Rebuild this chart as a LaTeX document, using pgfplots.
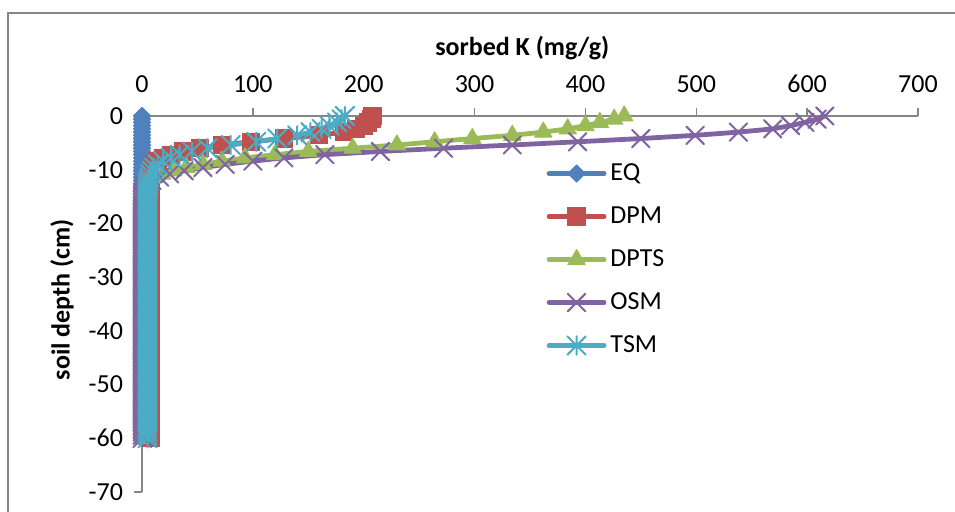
\documentclass[border=0pt]{standalone}
\usepackage{fontspec}
\setmainfont{Carlito}
\usepackage{pgfplots}
\usepackage{pgfplotstable}
\pgfplotsset{compat=1.18}
\definecolor{cEQ}{HTML}{4F81BD}
\definecolor{cDPM}{HTML}{C0504D}
\definecolor{cDPTS}{HTML}{9BBB59}
\definecolor{cOSM}{HTML}{8064A2}
\definecolor{cTSM}{HTML}{4BACC6}
\definecolor{axgray}{HTML}{868686}
\pgfdeclareplotmark{xstar}{%
  \pgfpathmoveto{\pgfqpoint{-\pgfplotmarksize}{-\pgfplotmarksize}}%
  \pgfpathlineto{\pgfqpoint{\pgfplotmarksize}{\pgfplotmarksize}}%
  \pgfpathmoveto{\pgfqpoint{-\pgfplotmarksize}{\pgfplotmarksize}}%
  \pgfpathlineto{\pgfqpoint{\pgfplotmarksize}{-\pgfplotmarksize}}%
  \pgfpathmoveto{\pgfqpoint{0pt}{-\pgfplotmarksize}}%
  \pgfpathlineto{\pgfqpoint{0pt}{\pgfplotmarksize}}%
  \pgfusepathqstroke}
\pgfplotstableread{
d EQ DPM DPTS OSM TSM
0 0 208 435 616 183
-0.6 0 207 426 609 180
-1.2 0 204 413 598 176
-1.8 0 200 400 585 169
-2.4 0 193 384 569 162
-3.0 0 182 362 538 152
-3.6 0 160 334 499 140
-4.2 0 128 298 450 122
-4.8 0 98 264 393 103
-5.4 0 72 230 334 80
-6.0 0 52 190 272 59
-6.6 0 37 150 215 45
-7.2 0 26 120 165 34
-7.8 0 19 93 128 26
-8.4 0 14 72 100 19
-9.0 0 11 55 75 14
-9.6 0 9.5 40 55 11
-10.2 0 9 28 38 9
-10.8 0 8.5 18 25 7.5
-11.4 0 8.2 11 16 6.5
-12.0 0 8 6 9 6
-12.6 0 8 3.5 5 5.5
-13.2 0 8 2 2.5 5.2
-13.8 0 8 1.5 1.2 5
-14.4 0 8 1.2 0.6 5
-15.0 0 8 1 0.3 5
-15.6 0 8 1 0.2 5
-16.2 0 8 1 0.2 5
-16.8 0 8 1 0.2 5
-17.4 0 8 1 0.2 5
-18.0 0 8 1 0.2 5
-18.6 0 8 1 0.2 5
-19.2 0 8 1 0.2 5
-19.8 0 8 1 0.2 5
-20.4 0 8 1 0.2 5
-21.0 0 8 1 0.2 5
-21.6 0 8 1 0.2 5
-22.2 0 8 1 0.2 5
-22.8 0 8 1 0.2 5
-23.4 0 8 1 0.2 5
-24.0 0 8 1 0.2 5
-24.6 0 8 1 0.2 5
-25.2 0 8 1 0.2 5
-25.8 0 8 1 0.2 5
-26.4 0 8 1 0.2 5
-27.0 0 8 1 0.2 5
-27.6 0 8 1 0.2 5
-28.2 0 8 1 0.2 5
-28.8 0 8 1 0.2 5
-29.4 0 8 1 0.2 5
-30.0 0 8 1 0.2 5
-30.6 0 8 1 0.2 5
-31.2 0 8 1 0.2 5
-31.8 0 8 1 0.2 5
-32.4 0 8 1 0.2 5
-33.0 0 8 1 0.2 5
-33.6 0 8 1 0.2 5
-34.2 0 8 1 0.2 5
-34.8 0 8 1 0.2 5
-35.4 0 8 1 0.2 5
-36.0 0 8 1 0.2 5
-36.6 0 8 1 0.2 5
-37.2 0 8 1 0.2 5
-37.8 0 8 1 0.2 5
-38.4 0 8 1 0.2 5
-39.0 0 8 1 0.2 5
-39.6 0 8 1 0.2 5
-40.2 0 8 1 0.2 5
-40.8 0 8 1 0.2 5
-41.4 0 8 1 0.2 5
-42.0 0 8 1 0.2 5
-42.6 0 8 1 0.2 5
-43.2 0 8 1 0.2 5
-43.8 0 8 1 0.2 5
-44.4 0 8 1 0.2 5
-45.0 0 8 1 0.2 5
-45.6 0 8 1 0.2 5
-46.2 0 8 1 0.2 5
-46.8 0 8 1 0.2 5
-47.4 0 8 1 0.2 5
-48.0 0 8 1 0.2 5
-48.6 0 8 1 0.2 5
-49.2 0 8 1 0.2 5
-49.8 0 8 1 0.2 5
-50.4 0 8 1 0.2 5
-51.0 0 8 1 0.2 5
-51.6 0 8 1 0.2 5
-52.2 0 8 1 0.2 5
-52.8 0 8 1 0.2 5
-53.4 0 8 1 0.2 5
-54.0 0 8 1 0.2 5
-54.6 0 8 1 0.2 5
-55.2 0 8 1 0.2 5
-55.8 0 8 1 0.2 5
-56.4 0 8 1 0.2 5
-57.0 0 8 1 0.2 5
-57.6 0 8 1 0.2 5
-58.2 0 8 1 0.2 5
-58.8 0 8 1 0.2 5
-59.4 0 8 1 0.2 5
-60.0 0 8 1 0.2 5
}\data
\begin{document}
\begin{tikzpicture}[font=\fontsize{13}{15.6}\selectfont]
\path[use as bounding box] (0,0) rectangle (477.5pt,-256pt);
\draw[axgray, line width=1pt] (4pt,-256pt) -- (4pt,-6.5pt) -- (477.5pt,-6.5pt);
\begin{axis}[
  at={(71pt,-58pt)}, anchor=north west,
  scale only axis, width=388pt, height=188pt,
  xmin=0, xmax=700, ymin=-70, ymax=0,
  axis x line=top, axis y line=left,
  axis line style={-, draw=axgray, line width=0.75pt},
  tick style={draw=axgray, line width=0.75pt},
  major tick length=4pt,
  tick align=outside,
  xtick={0,100,...,700}, ytick={-70,-60,...,0},
  yticklabels={-70,-60,-50,-40,-30,-20,-10,0},
  /pgf/number format/assume math mode=true,
  ticklabel style={font=\fontsize{13}{15.6}\selectfont},
  xticklabel style={yshift=4pt},
  yticklabel style={xshift=-2pt},
  clip=false,
  xlabel={\bfseries sorbed K (mg/g)},
  ylabel={\bfseries soil depth (cm)},
  label style={font=\fontsize{13}{15.6}\selectfont},
  xlabel style={at={(axis description cs:0.49,1.181)}, anchor=center},
  ylabel style={at={(axis description cs:-0.103,0.511)}, anchor=center, rotate=0},
  legend style={draw=none, fill=none, inner sep=0pt, at={(axis description cs:0.521,0.888)}, anchor=north west,
    font=\fontsize{13}{15.6}\selectfont, row sep=6.5pt,
    nodes={inner sep=2pt, text height=9pt, text depth=2pt}},
  legend cell align=left,
  legend image code/.code={\draw[#1, mark repeat=2, mark phase=2] plot coordinates {(0pt,0pt) (13.75pt,0pt) (27.5pt,0pt)};},
  every axis plot/.append style={line width=2.4pt, line join=round, line cap=round},
]
\addplot[cEQ, mark=diamond*, mark size=4.3pt, mark options={xscale=1.333, solid, line width=0.5pt}] table[x=EQ, y=d] {\data};
\addlegendentry{EQ}
\addplot[cDPM, mark=square*, mark size=4.3pt, mark options={solid, line width=0.5pt}] table[x=DPM, y=d] {\data};
\addlegendentry{DPM}
\addplot[cDPTS, mark=triangle*, mark size=5pt, mark options={solid, line width=0.5pt}] table[x=DPTS, y=d] {\data};
\addlegendentry{DPTS}
\addplot[cOSM, mark=x, mark size=6.2pt, mark options={solid, line width=1pt}] table[x=OSM, y=d] {\data};
\addlegendentry{OSM}
\addplot[cTSM, mark=xstar, mark size=4.6pt, mark options={solid, line width=1pt}] table[x=TSM, y=d] {\data};
\addlegendentry{TSM}
\end{axis}
\end{tikzpicture}
\end{document}
